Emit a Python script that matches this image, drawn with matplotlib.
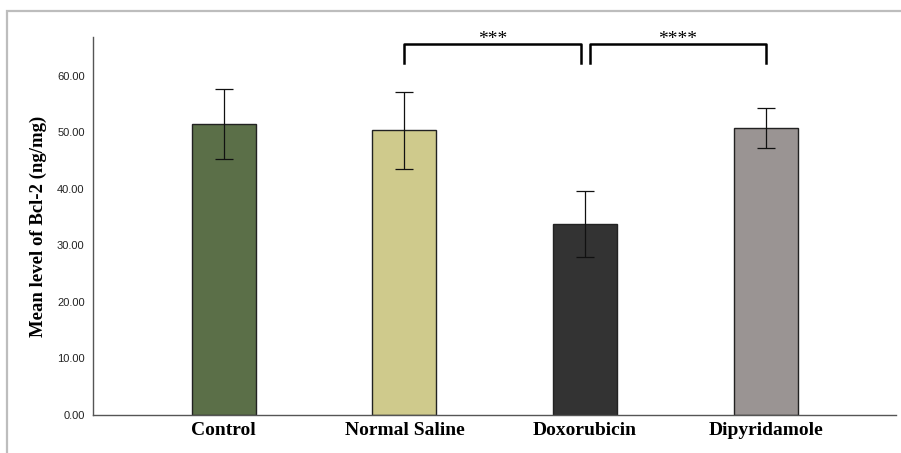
import matplotlib.pyplot as plt
from matplotlib.patches import Rectangle
import numpy as np

# group means and error bar half-widths
groups = ['Control', 'Normal Saline', 'Doxorubicin', 'Dipyridamole']
means = [51.5, 50.4, 33.8, 50.8]
errors = [6.2, 6.8, 5.9, 3.6]
colors = ['#5b6f48', '#cfca8c', '#333333', '#9a9493']
yticks = [0, 10, 20, 30, 40, 50, 60]

# significance brackets: (left group, right group, stars)
brackets = [(1, 2, '***'), (2, 3, '****')]

fig = plt.figure(figsize=(9.01, 4.53), dpi=100)
# light gray frame around the figure
fig.patches.append(Rectangle((7 / 901, -0.1), 1.2, 1 - 11 / 453 + 0.1,
                             transform=fig.transFigure, fill=False,
                             edgecolor='#bdbdbd', linewidth=1.6))

ax = fig.add_axes([93 / 901, 1 - 415 / 453, 803 / 901, 378 / 453])
x = np.arange(len(groups))
ax.bar(x, means, width=0.354, color=colors, edgecolor='#222222', linewidth=1.0)
ax.errorbar(x, means, yerr=errors, fmt='none', ecolor='#111111',
            elinewidth=0.9, capsize=6.5, capthick=0.9, zorder=3)

ax.set_xlim(-0.723, 3.72)
ax.set_ylim(0, 66.9)
ax.set_yticks(yticks)
ax.set_yticklabels(['%.2f' % v for v in yticks], fontsize=8,
                   family='Liberation Sans', color='#222222')
ax.set_xticks(x)
ax.set_xticklabels(groups, fontsize=14, family='Liberation Serif',
                   fontweight='bold')
ax.tick_params(axis='y', length=0, pad=6)
ax.tick_params(axis='x', length=0, pad=5)
ax.set_ylabel('Mean level of Bcl-2 (ng/mg)', fontsize=13.5,
              family='Liberation Serif', fontweight='bold', labelpad=7)
for s in ['top', 'right']:
    ax.spines[s].set_visible(False)
for s in ['left', 'bottom']:
    ax.spines[s].set_color('#555555')
    ax.spines[s].set_linewidth(1.0)

gap = 0.025
for i, j, stars in brackets:
    x0 = i + (gap if i == 2 else 0)
    x1 = j - (gap if j == 2 else 0)
    ax.plot([x0, x0, x1, x1], [62.3, 65.6, 65.6, 62.3], color='black',
            linewidth=1.8, clip_on=False)
    ax.text((x0 + x1) / 2, 65.0, stars, ha='center', va='bottom',
            fontsize=14, family='Liberation Serif')

fig.savefig('out.png', dpi=100)
